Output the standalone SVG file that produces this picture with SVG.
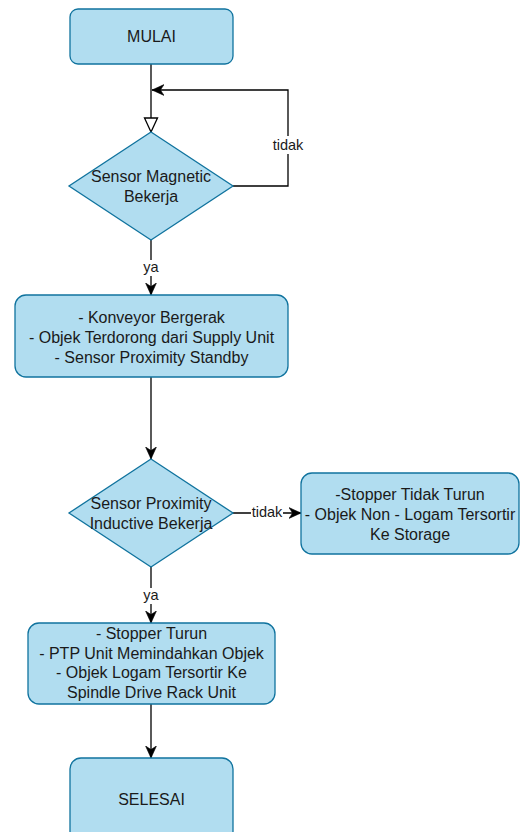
<svg xmlns="http://www.w3.org/2000/svg" width="520" height="832" viewBox="0 0 520 832">
<defs>
<style>
.n{fill:#b1ddf0;stroke:#10739e;stroke-width:1.3}
.t{font-family:"Liberation Sans",Arial,sans-serif;font-size:16px;fill:#1a1a1a;text-anchor:middle}
.l{font-family:"Liberation Sans",Arial,sans-serif;font-size:14.5px;fill:#1a1a1a;text-anchor:middle}
.e{fill:none;stroke:#000;stroke-width:1.3}
</style>
<marker id="a" markerUnits="userSpaceOnUse" markerWidth="12" markerHeight="12" viewBox="0 0 10 10" refX="10" refY="5" orient="auto">
<path d="M0,0.5 L10,5 L0,9.5 L3,5 Z" fill="#000" stroke="#000" stroke-width="0.5"/>
</marker>
<marker id="o" markerUnits="userSpaceOnUse" markerWidth="16" markerHeight="16" viewBox="0 0 16 16" refX="15" refY="8" orient="auto">
<path d="M1,1.5 L15,8 L1,14.5 Z" fill="#fff" stroke="#000" stroke-width="1.3"/>
</marker>
</defs>
<g id="edges">
<path class="e" d="M151,64 V132" marker-end="url(#o)"/>
<path class="e" d="M233,186 H288 V90 H152" marker-end="url(#a)"/>
<path class="e" d="M151,240 V295" marker-end="url(#a)"/>
<path class="e" d="M151,377 V459" marker-end="url(#a)"/>
<path class="e" d="M233,513 H301" marker-end="url(#a)"/>
<path class="e" d="M151,567 V623" marker-end="url(#a)"/>
<path class="e" d="M151,704 V758" marker-end="url(#a)"/>
<rect x="272" y="136" width="32" height="18" fill="#fff"/>
<text class="l" x="288" y="150">tidak</text>
<rect x="142" y="260" width="18" height="16" fill="#fff"/>
<text class="l" x="151" y="272">ya</text>
<rect x="251" y="505" width="32" height="16" fill="#fff"/>
<text class="l" x="267" y="517">tidak</text>
<rect x="142" y="588" width="18" height="16" fill="#fff"/>
<text class="l" x="151" y="600">ya</text>
</g>
<g id="mulai">
<rect class="n" x="70" y="9" width="163" height="55" rx="8"/>
<text class="t" x="151.5" y="42">MULAI</text>
</g>
<g id="sensor-magnetic">
<path class="n" d="M151,132 L233,186 L151,240 L69,186 Z"/>
<text class="t" x="151" y="182">Sensor Magnetic</text>
<text class="t" x="151" y="202">Bekerja</text>
</g>
<g id="konveyor">
<rect class="n" x="15" y="295" width="273" height="82" rx="11"/>
<text class="t" x="151.5" y="322.5">- Konveyor Bergerak</text>
<text class="t" x="151.5" y="342.5">- Objek Terdorong dari Supply Unit</text>
<text class="t" x="151.5" y="362.5">- Sensor Proximity Standby</text>
</g>
<g id="sensor-proximity">
<path class="n" d="M151,459 L233,513 L151,567 L69,513 Z"/>
<text class="t" x="151" y="509">Sensor Proximity</text>
<text class="t" x="151" y="529">Inductive Bekerja</text>
</g>
<g id="storage">
<rect class="n" x="301" y="473" width="218" height="81" rx="11"/>
<text class="t" x="410" y="499.5">-Stopper Tidak Turun</text>
<text class="t" x="410" y="519.5">- Objek Non - Logam Tersortir</text>
<text class="t" x="410" y="539.5">Ke Storage</text>
</g>
<g id="stopper-turun">
<rect class="n" x="28" y="623" width="247" height="81" rx="11"/>
<text class="t" x="151.5" y="639">- Stopper Turun</text>
<text class="t" x="151.5" y="658.5">- PTP Unit Memindahkan Objek</text>
<text class="t" x="151.5" y="678">- Objek Logam Tersortir Ke</text>
<text class="t" x="151.5" y="697.5">Spindle Drive Rack Unit</text>
</g>
<g id="selesai">
<rect class="n" x="70" y="758" width="163" height="84" rx="11"/>
<text class="t" x="151.5" y="805">SELESAI</text>
</g>
</svg>
